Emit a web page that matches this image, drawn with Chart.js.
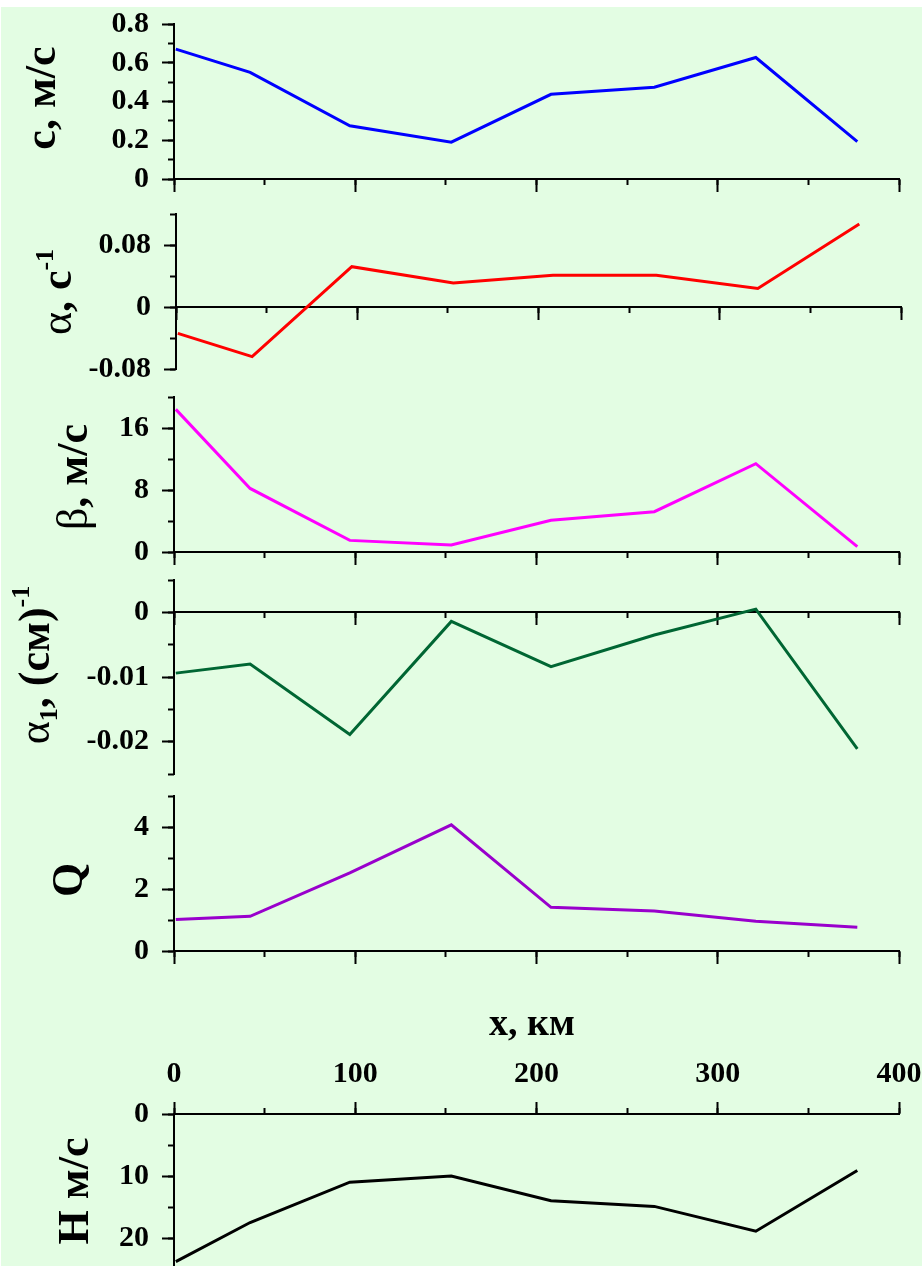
<!DOCTYPE html>
<html>
<head>
<meta charset="utf-8">
<script src="https://cdn.jsdelivr.net/npm/chart.js@4.4.0/dist/chart.umd.min.js"></script>
<style>
html, body { margin: 0; padding: 0; background: #fff; }
#page { position: relative; width: 922px; height: 1266px; overflow: hidden; background: #fff; }
#bg { position: absolute; left: 1px; top: 7px; right: 0; bottom: 0; background: #e3fde3; }
#page canvas { position: absolute; }
</style>
</head>
<body>
<div id="page"><div id="bg"></div></div>
<script>
// x positions of the stations, km
const xKm = [1, 42, 97, 153, 208, 265, 321, 377];

// series
const cVals = [0.67, 0.55, 0.275, 0.19, 0.437, 0.474, 0.627, 0.193];
const alphaVals = [-0.034, -0.064, 0.052, 0.031, 0.041, 0.041, 0.024, 0.107];
const betaVals = [18.4, 8.2, 1.5, 0.9, 4.1, 5.2, 11.4, 0.7];
const alpha1Vals = [-0.0094, -0.008, -0.0189, -0.0014, -0.0084, -0.0035, 0.0005, -0.0211];
const qVals = [1.02, 1.12, 2.52, 4.07, 1.41, 1.29, 0.96, 0.77];
const hVals = [23.8, 17.5, 11.0, 10.0, 14.0, 14.9, 18.9, 9.1];

// tick labels
const xTicks = [0, 100, 200, 300, 400];
const cTicks = [0, 0.2, 0.4, 0.6, 0.8];
const alphaTicks = [-0.08, 0, 0.08];
const betaTicks = [0, 8, 16];
const alpha1Ticks = [-0.02, -0.01, 0];
const qTicks = [0, 2, 4];
const hTicks = [0, 10, 20];

const SERIF = '"Liberation Serif", "Times New Roman", serif';
const BOLD = 'bold 44px ' + SERIF;
const GREEK = '44px ' + SERIF;
const SMALL = 'bold 26px ' + SERIF;
const tickFont = { family: SERIF, size: 30, weight: 'bold' };

// draws the axis titles (rotated y titles with sub/superscripts, x title)
const titlePlugin = {
    id: 'titles',
    afterDraw(chart, args, opts) {
        const ctx = chart.ctx;
        (opts.items || []).forEach(function(it) {
            ctx.save();
            ctx.translate(it.x, it.y);
            if (it.rotate) ctx.rotate(-Math.PI / 2);
            ctx.fillStyle = '#000';
            ctx.textBaseline = 'alphabetic';
            ctx.textAlign = 'left';
            let w = 0;
            it.parts.forEach(function(p) {
                ctx.font = p.font;
                w += ctx.measureText(p.text).width;
            });
            let cx = -w / 2;
            it.parts.forEach(function(p) {
                ctx.font = p.font;
                ctx.fillText(p.text, cx, p.dy || 0);
                cx += ctx.measureText(p.text).width;
            });
            ctx.restore();
        });
    }
};

const panels = [
    { data: cVals, color: '#0000ff', min: 0, max: 0.8, ticks: cTicks, minor: 0.1, top: 24, bottom: 179, shift: 0,
      title: { x: 55, y: 98, parts: [{ text: 'с, м/с', font: BOLD }] } },
    { data: alphaVals, color: '#ff0000', min: -0.08, max: 0.12, ticks: alphaTicks, minor: 0.04, top: 214, bottom: 369, shift: 2,
      title: { x: 71, y: 292, parts: [{ text: 'α', font: GREEK }, { text: ', с', font: BOLD }, { text: '-1', font: SMALL, dy: -18 }] } },
    { data: betaVals, color: '#ff00ff', min: 0, max: 20, ticks: betaTicks, minor: 4, top: 397, bottom: 552, shift: 0,
      title: { x: 87, y: 477, parts: [{ text: 'β', font: GREEK }, { text: ', м/с', font: BOLD }] } },
    { data: alpha1Vals, color: '#006633', min: -0.025, max: 0.005, ticks: alpha1Ticks, minor: 0.005, top: 580, bottom: 774, shift: 0,
      title: { x: 49, y: 665, parts: [{ text: 'α', font: GREEK }, { text: '1', font: SMALL, dy: 8 }, { text: ', (см)', font: BOLD }, { text: '-1', font: SMALL, dy: -20 }] } },
    { data: qVals, color: '#9900cc', min: 0, max: 5, ticks: qTicks, minor: 1, top: 796, bottom: 951, shift: 0,
      title: { x: 82, y: 880, parts: [{ text: 'Q', font: BOLD }] } },
    { data: hVals, color: '#000000', min: 0, max: 25, ticks: hTicks, minor: 5, top: 1114, bottom: 1269, shift: 0, reverse: true, xTop: true,
      title: { x: 88, y: 1191, parts: [{ text: 'H', font: BOLD }, { text: ' м/с', font: BOLD }] } }
];

const page = document.getElementById('page');
const PAD = 36;

panels.forEach(function(p) {
    const padTop = p.xTop ? 0 : PAD;
    const axisH = p.xTop ? 124 : 0;
    const canvasTop = p.top - padTop - axisH;
    const height = (p.bottom - p.top) + padTop + axisH + PAD;
    const canvas = document.createElement('canvas');
    canvas.width = 962;
    canvas.height = height;
    canvas.style.left = p.shift + 'px';
    canvas.style.top = canvasTop + 'px';
    page.appendChild(canvas);

    const items = [{ x: p.title.x - p.shift, y: p.title.y - canvasTop, rotate: true, parts: p.title.parts }];
    if (p.xTop) {
        items.push({ x: 532, y: 1035 - canvasTop, rotate: false, parts: [{ text: 'x, км', font: 'bold 38px ' + SERIF }] });
    }

    const tickGrid = { drawOnChartArea: false, tickLength: 12, tickWidth: 2, tickColor: '#000' };
    const minorGrid = { drawOnChartArea: false, tickLength: 6, tickWidth: 2, tickColor: '#000' };

    new Chart(canvas, {
        type: 'line',
        data: {
            datasets: [{
                data: xKm.map(function(x, i) { return { x: x, y: p.data[i] }; }),
                borderColor: p.color,
                borderWidth: 3,
                pointRadius: 0,
                tension: 0,
                fill: false
            }]
        },
        options: {
            responsive: false,
            animation: false,
            events: [],
            layout: { padding: { top: padTop, bottom: PAD, left: 0, right: 63 } },
            plugins: {
                legend: { display: false },
                tooltip: { enabled: false },
                titles: { items: items }
            },
            scales: {
                x: {
                    type: 'linear', min: 0, max: 400,
                    position: p.xTop ? 'top' : { y: 0 },
                    afterBuildTicks: function(s) { s.ticks = xTicks.map(function(v) { return { value: v }; }); },
                    afterFit: p.xTop ? function(s) { s.height = axisH; } : undefined,
                    ticks: { display: !!p.xTop, font: tickFont, color: '#000', padding: 10, maxRotation: 0, autoSkip: false,
                             callback: function(v) { return String(v); } },
                    grid: tickGrid,
                    border: { color: '#000', width: 2 }
                },
                xMinor: {
                    type: 'linear', min: 0, max: 400, weight: -1,
                    position: p.xTop ? 'top' : { y: 0 },
                    afterFit: p.xTop ? function(s) { s.height = 0; } : undefined,
                    ticks: { display: false, stepSize: 50 },
                    grid: minorGrid,
                    border: { display: false }
                },
                y: {
                    type: 'linear', position: 'left', min: p.min, max: p.max, reverse: !!p.reverse,
                    afterFit: function(s) { s.width = 174; },
                    afterBuildTicks: function(s) { s.ticks = p.ticks.map(function(v) { return { value: v }; }); },
                    ticks: { font: tickFont, color: '#000', padding: 13, autoSkip: false,
                             callback: function(v) { return String(v); } },
                    grid: tickGrid,
                    border: { color: '#000', width: 2 }
                },
                yMinor: {
                    type: 'linear', position: { x: 0 }, min: p.min, max: p.max, reverse: !!p.reverse,
                    ticks: { display: false, stepSize: p.minor },
                    grid: minorGrid,
                    border: { display: false }
                }
            }
        },
        plugins: [titlePlugin]
    });
});
</script>
</body>
</html>
